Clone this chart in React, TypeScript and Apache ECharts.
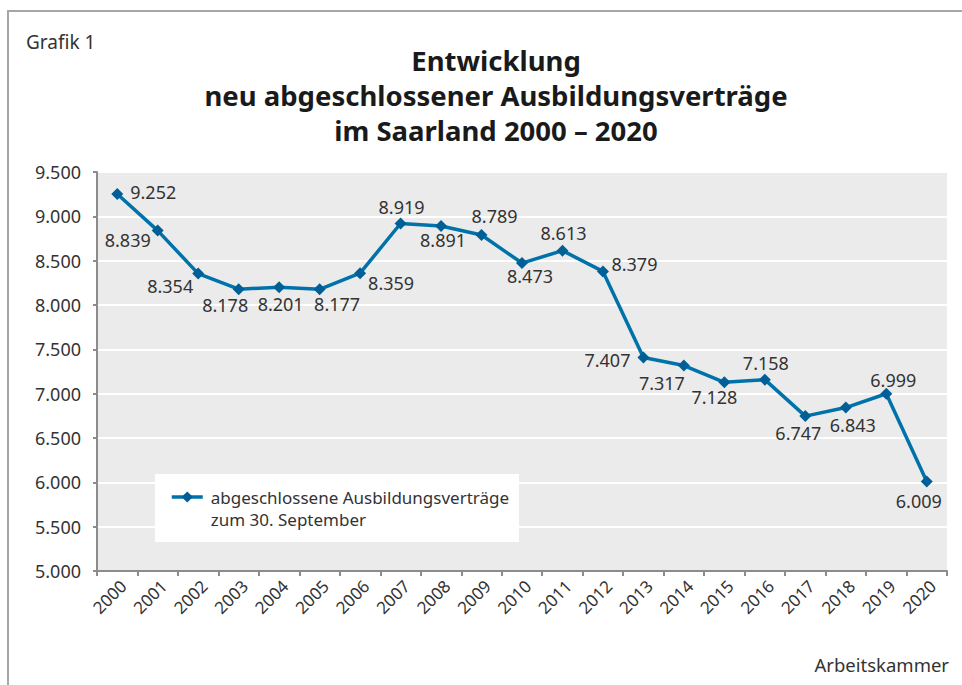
import React, { useEffect, useRef } from "react";
import * as echarts from "echarts";

const years = ["2000","2001","2002","2003","2004","2005","2006","2007","2008","2009","2010","2011","2012","2013","2014","2015","2016","2017","2018","2019","2020"];
const contracts = [9252, 8839, 8354, 8178, 8201, 8177, 8359, 8919, 8891, 8789, 8473, 8613, 8379, 7407, 7317, 7128, 7158, 6747, 6843, 6999, 6009];
const seriesName = "abgeschlossene Ausbildungsverträge\nzum 30. September";
const titleText = "Entwicklung\nneu abgeschlossener Ausbildungsverträge\nim Saarland 2000 – 2020";

// label offsets (styling) relative to each point
const labelOffsets: [number, number][] = [
  [36, -2], [-30, 9.5], [-28, 12], [-13.5, 15.5], [1.5, 17], [17.5, 15], [31, 10],
  [1, -16.5], [2, 14], [13, -19.5], [8, 13], [1, -17.5], [31.5, -7.5], [-36, 2],
  [-22, 17], [-10, 15], [1, -17], [-7, 17], [7, 17], [7, -14], [-8, 19.5],
];

const FONT = "'Noto Sans', 'Open Sans', sans-serif";
const TXT = "#333333";

function fmt(v: number): string {
  const s = Math.round(v).toString();
  return s.replace(/\B(?=(\d{3})+(?!\d))/g, ".");
}

export default function App() {
  const ref = useRef<HTMLDivElement>(null);
  useEffect(() => {
    if (!ref.current) return;
    const chart = echarts.init(ref.current, undefined, { renderer: "svg" });
    chart.setOption({
      animation: false,
      backgroundColor: "#ffffff",
      textStyle: { fontFamily: FONT },
      title: {
        text: titleText,
        left: 491,
        top: 38,
        textAlign: "center",
        textStyle: { fontFamily: FONT, fontSize: 27.5, fontWeight: "bold", color: "#1a1a1a", lineHeight: 35 },
      },
      grid: { left: 97, right: 15, top: 172, bottom: 114, show: true, backgroundColor: "#ebebeb", borderWidth: 0 },
      legend: {
        left: 170,
        top: 464,
        padding: 0,
        itemWidth: 31,
        itemHeight: 14,
        data: [seriesName],
        formatter: (name: string) => "\n" + name,
        lineStyle: { width: 3.5, color: "#0072aa" },
        itemStyle: { color: "#005f96" },
        textStyle: { fontFamily: FONT, fontSize: 17, color: TXT, lineHeight: 22, padding: [0, 0, 0, 3] },
      },
      xAxis: {
        type: "category",
        data: years,
        boundaryGap: true,
        axisLine: { lineStyle: { color: "#8c8c8c", width: 2 } },
        axisTick: { show: true, length: 5, lineStyle: { color: "#8c8c8c", width: 2 } },
        axisLabel: { rotate: 45, margin: 6, verticalAlign: "top", fontSize: 17, color: TXT, fontFamily: FONT, interval: 0 },
        splitLine: { show: false },
      },
      yAxis: {
        type: "value",
        min: 5000,
        max: 9500,
        interval: 500,
        axisLine: { show: true, lineStyle: { color: "#8c8c8c", width: 2 } },
        axisTick: { show: true, length: 4, lineStyle: { color: "#8c8c8c", width: 2 } },
        axisLabel: { margin: 16, fontSize: 18, color: TXT, fontFamily: FONT, formatter: (v: number) => fmt(v) },
        splitLine: { show: true, lineStyle: { color: "#ffffff", width: 2 } },
      },
      graphic: [
        {
          type: "polyline",
          shape: { points: [[8, 685], [8, 11], [962, 11]] },
          style: { stroke: "#a6a6a6", lineWidth: 2, fill: null },
          silent: true,
        },
        {
          type: "rect",
          z: 1,
          shape: { x: 155, y: 474, width: 364, height: 68 },
          style: { fill: "#ffffff" },
          silent: true,
        },
        {
          type: "text",
          x: 26,
          y: 42,
          style: { text: "Grafik 1", font: `19px ${FONT}`, fill: TXT, verticalAlign: "middle", align: "left" },
        },
        {
          type: "text",
          x: 949,
          y: 664,
          style: { text: "Arbeitskammer", font: `18.5px ${FONT}`, fill: TXT, verticalAlign: "middle", align: "right" },
        },
      ],
      series: [
        {
          name: seriesName,
          type: "line",
          data: contracts.map((v, i) => ({
            value: v,
            label: { offset: labelOffsets[i] },
          })),
          symbol: "diamond",
          symbolSize: 12,
          lineStyle: { color: "#0072aa", width: 3.5 },
          itemStyle: { color: "#005f96" },
          label: {
            show: true,
            position: "inside",
            fontSize: 18,
            color: TXT,
            fontFamily: FONT,
            formatter: (p: any) => fmt(p.value),
          },
          z: 3,
        },
      ],
    });
    return () => chart.dispose();
  }, []);
  return <div ref={ref} style={{ width: 962, height: 685, position: "absolute", left: 0, top: 0 }} />;
}
